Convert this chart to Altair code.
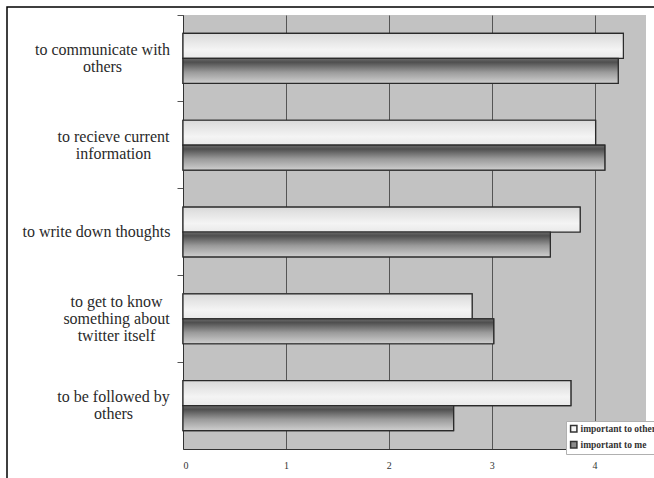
import altair as alt
import pandas as pd

# Reasons for using twitter, rated by importance (0-4.5 scale)
tasks = [
    "to communicate with\nothers",
    "to recieve current\ninformation",
    "to write down thoughts",
    "to get to know\nsomething about\ntwitter itself",
    "to be followed by\nothers",
]
series = ["important to others", "important to me"]
to_others = [4.28, 4.01, 3.86, 2.81, 3.77]
to_me = [4.23, 4.10, 3.57, 3.02, 2.63]

rows = []
for t, a, b in zip(tasks, to_others, to_me):
    rows.append({"task": t, "series": series[0], "value": a})
    rows.append({"task": t, "series": series[1], "value": b})
df = pd.DataFrame(rows)

SERIF = "Liberation Serif"
LINE_H = 17

# Lines of a label are centred on each other while the block sits flush
# against the axis: the padding is half the widest line plus a small gap.
label_padding = {
    "condition": [
        {"test": "indexof(datum.value, 'communicate') >= 0", "value": 75},
        {"test": "indexof(datum.value, 'recieve') >= 0", "value": 64},
        {"test": "indexof(datum.value, 'thoughts') >= 0", "value": 81},
        {"test": "indexof(datum.value, 'twitter') >= 0", "value": 61},
    ],
    "value": 64,
}
# Multi-line blocks are shifted up so the whole block is centred on its band
label_offset = {
    "condition": [
        {"test": "indexof(datum.value, 'twitter') >= 0", "value": -LINE_H},
        {"test": "indexof(datum.value, 'thoughts') >= 0", "value": 0},
    ],
    "value": -LINE_H / 2,
}

light_fill = alt.Gradient(
    gradient="linear", x1=0, x2=0, y1=0, y2=1,
    stops=[
        alt.GradientStop(color="#d9d9d9", offset=0),
        alt.GradientStop(color="#f4f4f4", offset=0.65),
        alt.GradientStop(color="#e9e9e9", offset=1),
    ],
)
dark_fill = alt.Gradient(
    gradient="linear", x1=0, x2=0, y1=0, y2=1,
    stops=[
        alt.GradientStop(color="#6c6c6c", offset=0),
        alt.GradientStop(color="#4f4f4f", offset=0.15),
        alt.GradientStop(color="#9a9a9a", offset=0.55),
        alt.GradientStop(color="#cfcfcf", offset=1),
    ],
)

y_enc = alt.Y(
    "task:N",
    sort=tasks,
    title=None,
    scale=alt.Scale(paddingInner=0, paddingOuter=0),
    axis=alt.Axis(
        labelExpr="split(datum.label, '\\n')",
        labelFont=SERIF,
        labelFontSize=16,
        labelLineHeight=LINE_H,
        labelColor="#2a2a2a",
        labelAlign="center",
        labelPadding=label_padding,
        labelOffset=label_offset,
        labelLimit=220,
        tickSize=6,
        tickColor="#555555",
        bandPosition=0,
        domainColor="#333333",
        grid=False,
    ),
)
yoff_enc = alt.YOffset(
    "series:N",
    sort=series,
    scale=alt.Scale(domain=series, paddingInner=0, paddingOuter=0.74),
)
x_enc = alt.X(
    "value:Q",
    title=None,
    scale=alt.Scale(domain=[0, 4.5], nice=False),
    axis=alt.Axis(
        values=[0, 1, 2, 3, 4],
        format="d",
        labelFont=SERIF,
        labelFontSize=10,
        labelColor="#333333",
        labelPadding=11,
        ticks=False,
        domainColor="#333333",
        grid=True,
        gridColor="#555555",
        gridWidth=1,
    ),
)

# Plain bars carry the legend; gradient bars are drawn over them
legend_bars = alt.Chart(df).mark_bar(stroke="#2a2a2a", strokeWidth=1.2).encode(
    y=y_enc,
    yOffset=yoff_enc,
    x=x_enc,
    color=alt.Color(
        "series:N",
        scale=alt.Scale(domain=series, range=["#f8f8f8", "#8a8a8a"]),
        legend=alt.Legend(
            title=None,
            orient="none",
            legendX=383,
            legendY=406,
            fillColor="white",
            strokeColor="#b0b0b0",
            padding=3,
            rowPadding=3,
            labelFont=SERIF,
            labelFontSize=9.5,
            labelFontWeight="bold",
            labelColor="#333333",
            labelOffset=2,
            labelLimit=200,
            symbolType="square",
            symbolSize=40,
            symbolStrokeColor="#333333",
            symbolStrokeWidth=1.5,
        ),
    ),
)

light_bars = alt.Chart(df).transform_filter(
    alt.datum.series == series[0]
).mark_bar(color=light_fill, stroke="#2a2a2a", strokeWidth=1.2).encode(
    y=y_enc, yOffset=yoff_enc, x=x_enc
)
dark_bars = alt.Chart(df).transform_filter(
    alt.datum.series == series[1]
).mark_bar(color=dark_fill, stroke="#2a2a2a", strokeWidth=1.2).encode(
    y=y_enc, yOffset=yoff_enc, x=x_enc
)

# Outer frame around the whole figure
frame = alt.Chart(pd.DataFrame({"k": [0]})).mark_rect(
    filled=False, stroke="black", strokeWidth=1.5
).encode(
    x=alt.value(-176), x2=alt.value(520), y=alt.value(-8), y2=alt.value(520)
)

chart = (
    alt.layer(legend_bars, light_bars, dark_bars, frame)
    .properties(
        width=463,
        height=434,
        autosize=alt.AutoSizeParams(type="none"),
        padding={"left": 183, "top": 15, "right": 8, "bottom": 29},
        background="white",
    )
    .configure_view(fill="#c2c2c2", strokeWidth=0)
)

chart.save("out.html", embed_options={"renderer": "svg", "actions": False})
